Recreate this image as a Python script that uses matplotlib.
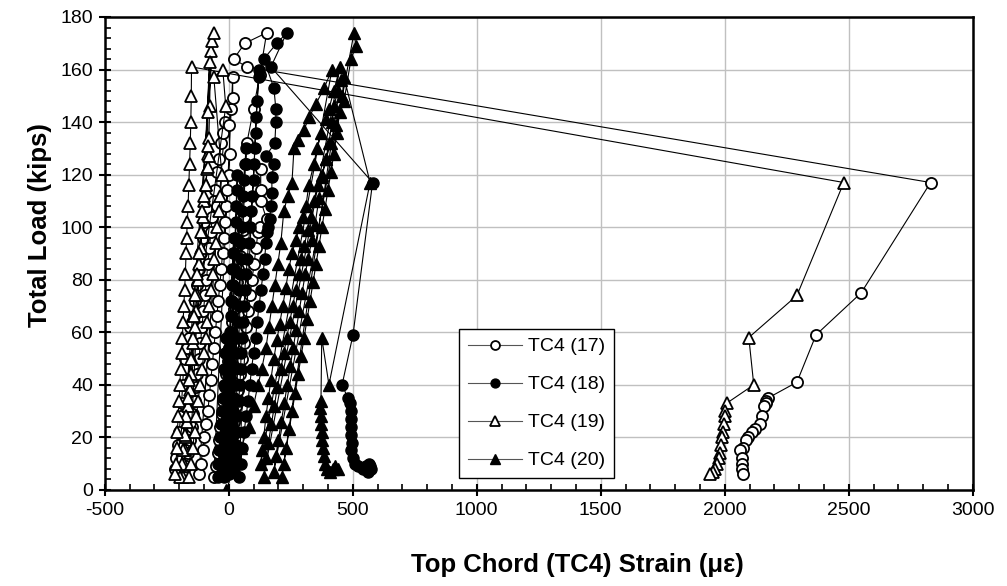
import numpy as np
import matplotlib.pyplot as plt
from matplotlib.ticker import MultipleLocator

plt.rcParams['font.family'] = ['Liberation Sans', 'DejaVu Sans']
plt.rcParams['axes.unicode_minus'] = False

# TC4 (17) - open circles (strain, load)
tc17_x = [-218, -212, -206, -200, -194, -190, -186, -182, -176, -170, -162, -155, -148, -141, -135, -128, -120, -112, -105, -100,
          -180, -172, -165, -158, -150, -144, -138, -132, -126, -120, -114, -108, -102, -96, -90, -84, -78, -72, -66, -60, -54, -48, -48, -40, -30, -22, -15,
          -120, -112, -105, -98, -90, -84, -78, -72, -66, -60, -54, -48, -42, -36, -30, -25, -20, -15, -10, -5, 0, 5, 0, 8, 16, 16,
          -60, -52, -45, -40, -34, -28, -22, -16, -10, -4, 2, 8, 14, 20, 26, 32, 38, 44, 50, 56, 62,
          -10, -2, 6, 14, 22, 30, 38, 46, 54, 62, 70, 78, 86, 94, 102, 110, 118, 125, 153, 129, 129, 129, 69, 73, 100, 125, 153, 65, 20, 73,
          2830, 2550, 2368, 2291, 2175, 2168, 2165, 2160, 2150, 2141, 2120, 2109, 2095, 2085, 2072, 2060, 2068, 2070, 2068, 2072]
tc17_y = [8, 12, 17, 22, 28, 33, 40, 46, 50, 54, 58, 62, 64, 66, 72, 78, 84, 90, 96, 102,
          5, 9, 14, 19, 24, 29, 34, 39, 44, 50, 56, 62, 68, 74, 80, 86, 92, 98, 104, 110, 114, 108, 121, 126, 132, 136, 140,
          6, 10, 15, 20, 25, 30, 36, 42, 48, 54, 60, 66, 72, 78, 84, 90, 96, 102, 108, 114, 120, 128, 139, 145, 149, 157,
          5, 9, 14, 19, 24, 29, 34, 39, 44, 49, 54, 59, 64, 69, 74, 79, 84, 89, 94, 99, 104,
          6, 10, 15, 20, 26, 32, 38, 44, 50, 56, 62, 68, 74, 80, 86, 92, 98, 100, 103, 110, 114, 122, 124, 132, 145, 158, 174, 170, 164, 161,
          117, 75, 59, 41, 35, 34, 33, 32, 28, 25, 23, 22, 20, 19, 16, 15, 12, 10, 8, 6]

# TC4 (18) - filled circles
tc18_x = [-45, -42, -38, -35, -30, -28, -25, -20, -18, -15, -12,
          -30, -26, -22, -20, -15, -12, -8, -5, -2, 0, 3, 5, 8, 10, 12, 15, 18, 20,
          -20, -15, -12, -10, -5, -2, 0, 2, 5, 8, 10, 12, 15, 15, 18, 20, 22, 25, 28, 30, 32, 35,
          0, 4, 8, 10, 14, 18, 20, 24, 26, 30, 32, 36, 40, 42, 45, 48, 50, 52, 55, 58, 60, 65, 70,
          20, 25, 30, 32, 35, 40, 45, 48, 50, 55, 58, 62, 65, 70, 75, 80, 85, 90, 95, 100, 103, 105, 108, 110, 115, 121, 121,
          40, 48, 55, 62, 70, 78, 85, 92, 100, 108, 115, 122, 130, 138, 145, 150, 155, 160, 165, 170, 174, 174, 182, 149, 186, 190, 190, 182, 141, 194, 234, 170,
          580, 501, 457, 480, 490, 493, 492, 495, 493, 497, 495, 500, 510, 520, 540, 555, 565, 570, 575, 560]
tc18_y = [5, 10, 15, 20, 25, 30, 35, 40, 46, 52, 58,
          6, 10, 14, 19, 24, 29, 34, 39, 44, 49, 54, 60, 66, 72, 78, 84, 90, 96,
          5, 9, 13, 18, 23, 28, 33, 38, 43, 48, 54, 60, 66, 72, 78, 84, 90, 96, 102, 108, 114, 120,
          6, 10, 15, 20, 25, 30, 35, 40, 46, 52, 58, 64, 70, 76, 82, 88, 94, 100, 106, 112, 118, 124, 130,
          7, 12, 17, 22, 28, 34, 40, 46, 52, 58, 64, 70, 76, 82, 88, 94, 100, 106, 112, 118, 124, 130, 136, 142, 148, 157, 160,
          5, 10, 16, 22, 28, 34, 40, 46, 52, 58, 64, 70, 76, 82, 88, 94, 98, 100, 103, 108, 113, 119, 124, 127, 132, 140, 145, 153, 164, 170, 174, 161,
          117, 59, 40, 35, 33, 30, 27, 24, 21, 18, 15, 12, 10, 9, 8, 9, 10, 9, 8, 7]

# TC4 (19) - open triangles
tc19_x = [-185, -180, -176, -172, -168, -163, -158, -153, -148, -143, -138, -133, -128, -123, -118, -113, -108, -103, -98, -93, -88, -84, -80, -77, -73, -69, -60,
          -195, -190, -184, -178, -172, -166, -160, -153, -146, -140, -134, -129, -121, -113, -109, -100, -93, -85, -81, -85, -85, -77,
          -160, -152, -145, -138, -130, -123, -116, -108, -100, -93, -86, -79, -72, -65, -58, -52, -46, -40, -34, -28, -60, -24, -12,
          -215, -212, -210, -207, -204, -200, -197, -194, -190, -187, -184, -181, -178, -175, -172, -170, -167, -164, -161, -158, -155, -153, -151, -150,
          2480, 2291, 2097, 2117, 2008, 2003, 2000, 1997, 1993, 1990, 1985, 1980, 1975, 1968, 1960, 1952, 1940]
tc19_y = [5, 10, 15, 20, 26, 32, 38, 44, 50, 56, 62, 68, 74, 80, 86, 92, 98, 104, 110, 116, 122, 128, 134, 146, 167, 171, 174,
          5, 10, 15, 21, 28, 35, 42, 50, 58, 66, 74, 82, 90, 98, 106, 112, 116, 123, 127, 131, 144, 163,
          5, 10, 16, 22, 28, 34, 40, 46, 52, 58, 64, 70, 76, 82, 88, 94, 100, 106, 112, 120, 157, 160, 146,
          6, 10, 16, 22, 28, 34, 40, 46, 52, 58, 64, 70, 76, 82, 90, 96, 102, 108, 116, 124, 132, 140, 150, 161,
          117, 74, 58, 40, 33, 30, 28, 25, 22, 20, 17, 14, 12, 10, 8, 7, 6]

# TC4 (20) - filled triangles
tc20_x = [-10, 20, 50, 80, 100, 118, 133, 150, 162, 174, 186, 198, 210, 222, 238, 255, 263, 280, 303, 325, 352, 385, 416,
          129, 135, 141, 150, 160, 170, 182, 194, 205, 218, 230, 242, 255, 270, 285, 300, 311, 323, 343, 356, 372, 392, 404, 424, 449,
          141, 150, 160, 172, 184, 196, 210, 222, 234, 246, 258, 270, 283, 291, 305, 318, 331, 343, 358, 376, 392, 412, 432, 465, 493, 513, 505,
          182, 190, 200, 212, 224, 236, 248, 260, 272, 284, 296, 308, 320, 335, 348, 364, 376, 392, 404, 416, 424, 440, 452,
          214, 222, 232, 244, 256, 268, 280, 292, 304, 316, 328, 340, 352, 364, 376, 388, 400, 412, 424, 436, 448, 458, 465,
          570, 404, 375, 372, 370, 372, 374, 376, 378, 380, 385, 390, 398, 410, 420, 430, 440]
tc20_y = [0, 8, 16, 24, 32, 40, 46, 54, 62, 70, 78, 86, 94, 106, 112, 117, 130, 133, 137, 142, 147, 153, 160,
          10, 15, 20, 28, 35, 42, 50, 57, 63, 70, 77, 84, 90, 95, 100, 104, 108, 116, 124, 130, 136, 141, 145, 152, 161,
          5, 12, 18, 25, 32, 39, 46, 52, 58, 64, 70, 76, 82, 88, 93, 99, 104, 110, 116, 120, 126, 132, 139, 148, 164, 169, 174,
          7, 13, 19, 26, 33, 40, 47, 54, 61, 68, 75, 82, 88, 95, 101, 111, 119, 126, 132, 140, 146, 152, 156,
          5, 10, 16, 23, 30, 37, 44, 51, 58, 65, 72, 79, 86, 93, 100, 107, 114, 121, 128, 136, 144, 150, 157,
          117, 40, 58, 34, 31, 28, 25, 22, 19, 16, 13, 10, 8, 7, 8, 9, 8]

fig = plt.figure(figsize=(10.07, 5.86), dpi=100)
ax = fig.add_axes([0.104, 0.164, 0.862, 0.807])

ms = 8
ax.plot(tc17_x, tc17_y, '-o', color='black', lw=0.8, ms=ms, mfc='white', mew=1.3, label='TC4 (17)')
ax.plot(tc18_x, tc18_y, '-o', color='black', lw=0.8, ms=ms, mfc='black', label='TC4 (18)')
ax.plot(tc19_x, tc19_y, '-^', color='black', lw=0.8, ms=ms + 1, mfc='white', mew=1.3, label='TC4 (19)')
ax.plot(tc20_x, tc20_y, '-^', color='black', lw=0.8, ms=ms + 1, mfc='black', label='TC4 (20)')

ax.set_xlim(-500, 3000)
ax.set_ylim(0, 180)
ax.xaxis.set_major_locator(MultipleLocator(500))
ax.xaxis.set_minor_locator(MultipleLocator(100))
ax.yaxis.set_major_locator(MultipleLocator(20))
ax.yaxis.set_minor_locator(MultipleLocator(4))
ax.grid(True, which='major', color='#c0c0c0', lw=1)
ax.set_axisbelow(True)
for s in ax.spines.values():
    s.set_linewidth(1.8)
ax.tick_params(which='major', direction='inout', length=9, width=1.5, labelsize=14, pad=4)
ax.tick_params(which='minor', direction='in', length=4, width=1.2)

ax.set_xlabel('Top Chord (TC4) Strain (\u03bc\u03b5)', fontsize=18.5, fontweight='bold')
ax.set_ylabel('Total Load (kips)', fontsize=18.5, fontweight='bold')
ax.xaxis.set_label_coords(0.545, -0.133)
ax.yaxis.set_label_coords(-0.061, 0.56)

leg = ax.legend(loc='lower left', bbox_to_anchor=(0.456, 0.184), bbox_transform=fig.transFigure,
                fontsize=14, frameon=True, fancybox=False, edgecolor='black', framealpha=1,
                handlelength=2.8, handletextpad=0.3, markerscale=0.8, labelspacing=1.05,
                borderpad=0.45, borderaxespad=0)
leg.get_frame().set_linewidth(1.0)
for h in leg.get_lines():
    h.set_color('#555555')
    h.set_markeredgecolor('black')

fig.savefig('out.png', dpi=100)
